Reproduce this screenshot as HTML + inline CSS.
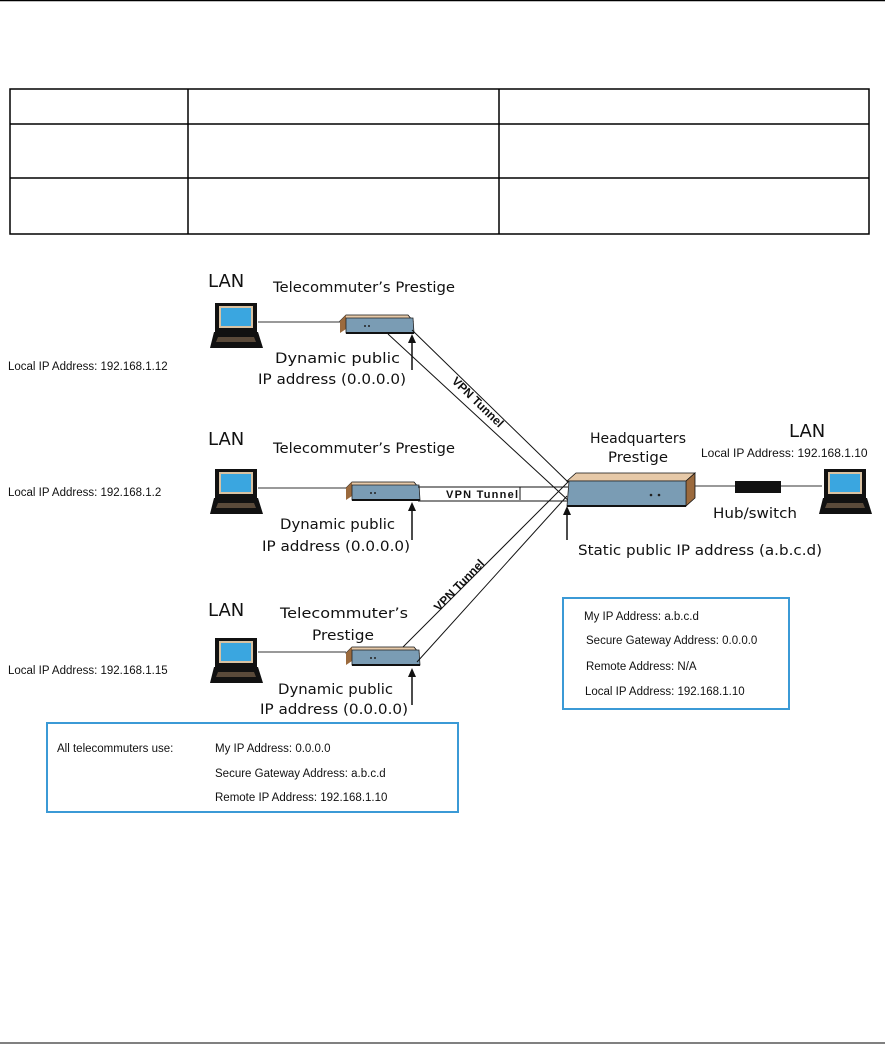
<!DOCTYPE html>
<html><head><meta charset="utf-8"><style>
html,body{margin:0;padding:0;background:#fff;}
body{width:885px;height:1047px;position:relative;overflow:hidden;}
svg{position:absolute;left:0;top:0;}
.s{font-family:"Liberation Sans",Arial,sans-serif;font-size:11.5px;fill:#111;}
.d{font-family:"DejaVu Sans",sans-serif;font-size:14.5px;fill:#111;}
.l{font-family:"DejaVu Sans",sans-serif;font-size:18px;fill:#111;}
.v{font-family:"Liberation Sans",Arial,sans-serif;font-size:11px;font-weight:bold;fill:#111;}
.vr{font-family:"Liberation Sans",Arial,sans-serif;font-size:12px;font-weight:bold;fill:#111;}
</style></head><body>
<svg width="885" height="1047" viewBox="0 0 885 1047" xmlns="http://www.w3.org/2000/svg">
<defs>
<g id="lap">
<rect x="5" y="0" width="42" height="29" fill="#111"/>
<rect x="9" y="3" width="34" height="22" fill="#d9c2a2"/>
<rect x="11" y="5" width="30" height="18" fill="#3aa6e0"/>
<polygon points="4,29 48,29 53,45 0,45" fill="#111"/>
<polygon points="8,34 44,34 46,39 6,39" fill="#5a4a3a"/>
</g>
<g id="rtr">
<polygon points="0,6 6,0 68,0 73,6" fill="#e6c9a8" stroke="#111" stroke-width="0.8"/>
<polygon points="0,6 6,0 6,14 0,18" fill="#9b6a3d"/>
<polygon points="6,3 73,3 74,18 6,18" fill="#7a9cb4" stroke="#222" stroke-width="0.8"/>
<line x1="6" y1="18" x2="74" y2="18" stroke="#111" stroke-width="2"/>
<circle cx="25" cy="11" r="1" fill="#222"/><circle cx="29" cy="11" r="1" fill="#222"/>
</g>
</defs>
<line x1="0" y1="0.5" x2="885" y2="0.5" stroke="#000" stroke-width="1.5"/>
<line x1="0" y1="1043" x2="885" y2="1043" stroke="#000" stroke-width="1"/>
<g stroke="#000" stroke-width="1.5" fill="none">
<rect x="10" y="89" width="859" height="145"/>
<line x1="10" y1="124" x2="869" y2="124"/>
<line x1="10" y1="178" x2="869" y2="178"/>
<line x1="188" y1="89" x2="188" y2="234"/>
<line x1="499" y1="89" x2="499" y2="234"/>
</g>

<text class="s" x="8" y="370">Local IP Address: 192.168.1.12</text>
<text class="s" x="8" y="496">Local IP Address: 192.168.1.2</text>
<text class="s" x="8" y="674">Local IP Address: 192.168.1.15</text>

<text class="l" x="208" y="287">LAN</text>
<text class="d" x="273" y="292" textLength="182" lengthAdjust="spacingAndGlyphs">Telecommuter’s Prestige</text>
<use href="#lap" x="210" y="303"/>
<line x1="258" y1="322" x2="340" y2="322" stroke="#333"/>
<use href="#rtr" x="340" y="315"/>
<line x1="412" y1="370" x2="412" y2="340" stroke="#111" stroke-width="1.5"/>
<polygon points="408,343 412,334 416,343" fill="#111"/>
<text class="d" x="275" y="363" textLength="125" lengthAdjust="spacingAndGlyphs">Dynamic public</text>
<text class="d" x="258" y="384" textLength="148" lengthAdjust="spacingAndGlyphs">IP address (0.0.0.0)</text>

<text class="l" x="208" y="445">LAN</text>
<text class="d" x="273" y="453" textLength="182" lengthAdjust="spacingAndGlyphs">Telecommuter’s Prestige</text>
<use href="#lap" x="210" y="469"/>
<line x1="258" y1="488" x2="346" y2="488" stroke="#333"/>
<use href="#rtr" x="346" y="482"/>
<line x1="412" y1="540" x2="412" y2="508" stroke="#111" stroke-width="1.5"/>
<polygon points="408,511 412,502 416,511" fill="#111"/>
<text class="d" x="280" y="529" textLength="115" lengthAdjust="spacingAndGlyphs">Dynamic public</text>
<text class="d" x="262" y="551" textLength="148" lengthAdjust="spacingAndGlyphs">IP address (0.0.0.0)</text>

<text class="l" x="208" y="616">LAN</text>
<text class="d" x="280" y="618" textLength="128" lengthAdjust="spacingAndGlyphs">Telecommuter’s</text>
<text class="d" x="312" y="640" textLength="62" lengthAdjust="spacingAndGlyphs">Prestige</text>
<use href="#lap" x="210" y="638"/>
<line x1="258" y1="652" x2="346" y2="652" stroke="#333"/>
<use href="#rtr" x="346" y="647"/>
<line x1="412" y1="705" x2="412" y2="674" stroke="#111" stroke-width="1.5"/>
<polygon points="408,677 412,668 416,677" fill="#111"/>
<text class="d" x="278" y="694" textLength="115" lengthAdjust="spacingAndGlyphs">Dynamic public</text>
<text class="d" x="260" y="714" textLength="148" lengthAdjust="spacingAndGlyphs">IP address (0.0.0.0)</text>

<g stroke="#111" stroke-width="1" fill="none">
<line x1="388" y1="334" x2="570" y2="502"/>
<line x1="412" y1="330" x2="568" y2="482"/>
<line x1="418" y1="487" x2="568" y2="487"/>
<line x1="418" y1="501" x2="568" y2="501"/>
<line x1="403" y1="647" x2="569" y2="481"/>
<line x1="417" y1="662" x2="567" y2="496"/>
<line x1="520" y1="487" x2="520" y2="500"/>
</g>
<text class="v" x="446" y="498" textLength="72">VPN Tunnel</text>
<text class="vr" transform="translate(475,405) rotate(44)" text-anchor="middle">VPN Tunnel</text>
<text class="vr" transform="translate(462,588) rotate(-46)" text-anchor="middle">VPN Tunnel</text>

<text class="d" x="590" y="443" textLength="96" lengthAdjust="spacingAndGlyphs">Headquarters</text>
<text class="d" x="608" y="462" textLength="60" lengthAdjust="spacingAndGlyphs">Prestige</text>
<polygon points="567,481 576,473 695,473 686,481" fill="#e6c9a8" stroke="#111" stroke-width="0.8"/>
<polygon points="686,481 695,473 695,498 686,506" fill="#9b6a3d" stroke="#111" stroke-width="0.8"/>
<polygon points="569,481 686,481 686,506 567,506" fill="#7a9cb4" stroke="#222" stroke-width="0.8"/>
<line x1="567" y1="506" x2="686" y2="506" stroke="#111" stroke-width="2"/>
<circle cx="651" cy="495" r="1.3" fill="#222"/><circle cx="659" cy="495" r="1.3" fill="#222"/>
<line x1="567" y1="540" x2="567" y2="512" stroke="#111" stroke-width="1.5"/>
<polygon points="563,515 567,506 571,515" fill="#111"/>
<text class="d" x="578" y="555" textLength="244" lengthAdjust="spacingAndGlyphs">Static public IP address (a.b.c.d)</text>
<line x1="695" y1="486" x2="822" y2="486" stroke="#333"/>
<rect x="735" y="481" width="46" height="12" fill="#111"/>
<text class="d" x="713" y="518" textLength="84" lengthAdjust="spacingAndGlyphs">Hub/switch</text>
<text class="l" x="789" y="437">LAN</text>
<text class="s" x="701" y="457" style="font-size:12px">Local IP Address: 192.168.1.10</text>
<use href="#lap" x="819" y="469"/>

<rect x="563" y="598" width="226" height="111" fill="none" stroke="#3b9ad6" stroke-width="2"/>
<text class="s" x="584" y="620">My IP Address: a.b.c.d</text>
<text class="s" x="586" y="644">Secure Gateway Address: 0.0.0.0</text>
<text class="s" x="586" y="670">Remote Address: N/A</text>
<text class="s" x="585" y="695">Local IP Address: 192.168.1.10</text>

<rect x="47" y="723" width="411" height="89" fill="none" stroke="#3b9ad6" stroke-width="2"/>
<text class="s" x="57" y="752">All telecommuters use:</text>
<text class="s" x="215" y="752">My IP Address: 0.0.0.0</text>
<text class="s" x="215" y="777">Secure Gateway Address: a.b.c.d</text>
<text class="s" x="215" y="801">Remote IP Address: 192.168.1.10</text>
</svg>
</body></html>
